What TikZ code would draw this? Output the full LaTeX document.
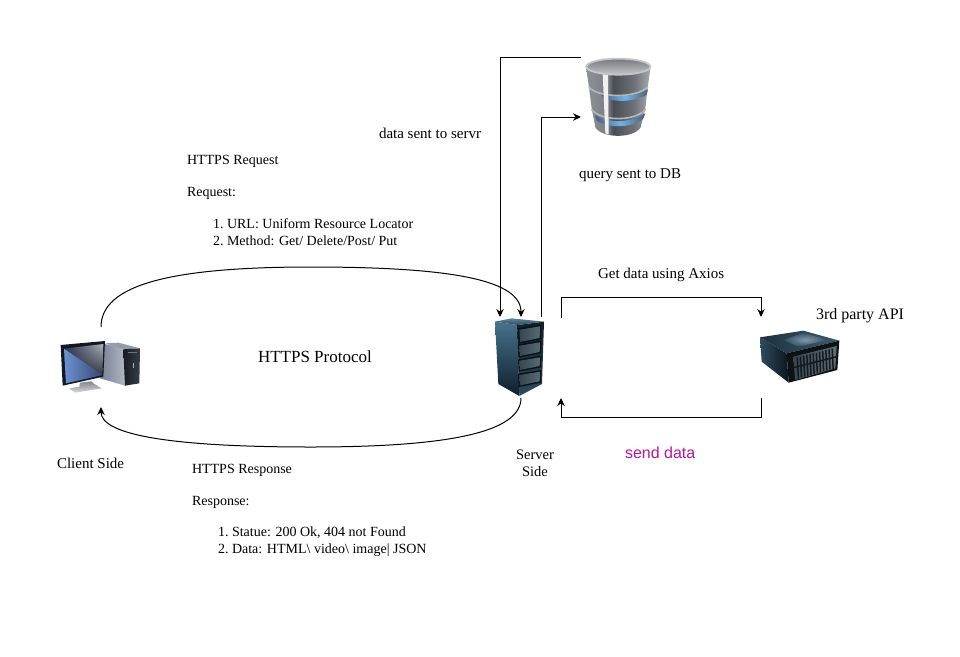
\documentclass[tikz,border=0pt]{standalone}
\usepackage{fontspec}
\setmainfont{Liberation Serif}
\newfontfamily\lsans{Liberation Sans}
\usetikzlibrary{arrows.meta,shadings}
\definecolor{magtxt}{HTML}{B5179E}
\definecolor{dbA}{HTML}{8E9298}
\definecolor{dbB}{HTML}{7A7E84}
\definecolor{dbC}{HTML}{4A4D54}
\definecolor{dbD}{HTML}{6E7278}
\definecolor{dbE}{HTML}{A8ACB2}
\definecolor{dbGlowM}{HTML}{6FB4E6}
\definecolor{dbGlowE}{HTML}{4C5F78}
\definecolor{dbSeam}{HTML}{B4B7BC}
\definecolor{dbTopD}{HTML}{77797E}
\definecolor{dbTopL}{HTML}{C4C6CA}
% client
\definecolor{cTowerL}{HTML}{788096}
\definecolor{cTowerR}{HTML}{B2B6C3}
\definecolor{cTowerT}{HTML}{969BAA}
\definecolor{cFrontL}{HTML}{191C26}
\definecolor{cFrontR}{HTML}{373C48}
\definecolor{cBay}{HTML}{6E737D}
\definecolor{cBtn}{HTML}{AAAFB4}
\definecolor{cStandT}{HTML}{82878F}
\definecolor{cStandB}{HTML}{D7DADE}
\definecolor{cBezel}{HTML}{141826}
\definecolor{cScrUL}{HTML}{283050}
\definecolor{cScrUR}{HTML}{AFB4BC}
\definecolor{cScrLR}{HTML}{14161E}
\definecolor{cScrLL}{HTML}{282D3C}
\definecolor{cBlueL}{HTML}{6C91D2}
\definecolor{cBlueR}{HTML}{374873}
% server
\definecolor{sLeftT}{HTML}{46738C}
\definecolor{sLeftB}{HTML}{0E1E2C}
\definecolor{sRightT}{HTML}{121E26}
\definecolor{sRightB}{HTML}{2D4B5F}
\definecolor{sTopT}{HTML}{5F879B}
\definecolor{sTopB}{HTML}{28485C}
\definecolor{sDrawer}{HTML}{0C1014}
\definecolor{sPanelL}{HTML}{35464F}
\definecolor{sPanelR}{HTML}{566A75}
% api
\definecolor{aLeftL}{HTML}{2D4B5F}
\definecolor{aLeftR}{HTML}{0E161C}
\definecolor{aTopL}{HTML}{1C303E}
\definecolor{aTopR}{HTML}{3C5A6C}
\definecolor{aGlowI}{HTML}{96AFBE}
\definecolor{aGlowO}{HTML}{325064}
\definecolor{aFront}{HTML}{0E1216}
\definecolor{aPanelL}{HTML}{374650}
\definecolor{aPanelR}{HTML}{5F6E78}
\definecolor{aSlot}{HTML}{141A1E}
\pgfdeclarehorizontalshading{dbbody}{100bp}{
  color(0bp)=(dbA); color(25bp)=(dbA); color(42bp)=(dbB); color(46bp)=(dbC);
  color(62bp)=(dbD); color(75bp)=(dbE); color(100bp)=(dbE)}
\tikzset{
  wire/.style={draw=black,line width=1pt,-{Stealth[length=8pt,width=7.5pt]}},
  lab/.style={anchor=base west,inner sep=0pt,outer sep=0pt,font=\fontsize{14}{16}\selectfont,text=black},
  wide/.style={font=\fontsize{15}{17}\selectfont},
  icon/.style={inner sep=0pt,outer sep=0pt,draw=none},
  glow/.style={left color=dbGlowE,right color=dbGlowE,middle color=dbGlowM},
  seam/.style={draw=dbSeam,line width=1.6pt,fill=none},
}
\newcommand{\numitem}[2]{\makebox[14pt][l]{#1}#2}
\begin{document}
\begin{tikzpicture}[x=1pt,y=-1pt]
\useasboundingbox (0,0) rectangle (960,656);
\fill[white] (0,0) rectangle (960,656);

% ---------- icon place holders
\node[icon,minimum width=80pt,minimum height=52pt] (client) at (100,366) {};
\node[icon,minimum width=50pt,minimum height=78pt] (server) at (521,357) {};
\node[icon,minimum width=74pt,minimum height=78pt] (db) at (618,97) {};
\node[icon,minimum width=80pt,minimum height=52pt] (api) at (800,360) {};

% ---------- client
\begin{scope}[shift={(40,320)},scale=1/3]
  \path[left color=cTowerL,right color=cTowerR] (185,70)--(255,85)--(255,197)--(180,175)--cycle;
  \fill[cTowerT] (195,70)--(235,68)--(300,85)--(250,88)--cycle;
  \path[left color=cFrontL,right color=cFrontR] (250,88)--(300,85)--(298,190)--(255,197)--cycle;
  \fill[cBay] (265,95) rectangle (292,100);
  \fill[cBtn] (278,128) rectangle (282,145);
  % stand
  \path[top color=cStandT,bottom color=cStandB] (120,188)--(155,184)--(160,190)--(185,205)--(105,218)--(88,205)--(118,200)--cycle;
  % monitor
  \fill[cBezel] (62,75)--(195,63)--(190,170)--(68,197)--cycle;
  \shade[upper left=cScrUL,upper right=cScrUR,lower right=cScrLR,lower left=cScrLL] (72,86)--(190,72)--(187,165)--(78,190)--cycle;
  \path[left color=cBlueL,right color=cBlueR] (72,86)--(187,165)--(78,190)--cycle;
\end{scope}

% ---------- server
\begin{scope}[shift={(480,290)},scale=1/3]
  \path[top color=sLeftT,bottom color=sLeftB] (45,95)--(112,105)--(118,318)--(55,282)--cycle;
  \path[top color=sRightT,bottom color=sRightB] (112,105)--(192,95)--(186,282)--(118,318)--cycle;
  \path[top color=sTopT,bottom color=sTopB] (45,95)--(95,85)--(192,95)--(112,105)--cycle;
  \foreach \a/\b in {112/158,160/200,205/242,248/288}{
    \fill[sDrawer] (114,\a+3)--(184,\a-8)--(183,\b-10)--(116,\b+3)--cycle;
    \path[left color=sPanelL,right color=sPanelR] (118,\a+7)--(180,\a-3)--(179,\b-14)--(120,\b-2)--cycle;
  }
\end{scope}

% ---------- database
\begin{scope}[shift={(560,40)},scale=1/3]
  \path[shading=dbbody] (78,80)--(272,80)--(262,150)--(256,205)--(242,262) .. controls (222,296) and (126,296) .. (106,262)--(95,205)--(88,150)--cycle;
  % seams and glow
  \path[glow] (126,158) .. controls (170,176) and (225,170) .. (264,148) -- (260,164) .. controls (225,186) and (165,188) .. (128,172) -- cycle;
  \path[seam] (86,142) .. controls (120,175) and (230,175) .. (264,140);
  \path[glow] (106,226) .. controls (150,252) and (215,248) .. (256,220) -- (250,236) .. controls (215,264) and (150,266) .. (110,242) -- cycle;
  \path[seam] (94,208) .. controls (125,245) and (225,245) .. (257,208);
  % highlight
  \fill[white!88!gray] (128,100)--(144,104)--(146,283)--(136,280)--cycle;
  % top
  \path[top color=dbTopD,bottom color=dbTopL,draw=dbTopL,line width=1.8pt] (175,80) ellipse[x radius=96,y radius=24];
\end{scope}

% ---------- third party API
\begin{scope}[shift={(740,320)},scale=1/3]
  \path[left color=aLeftL,right color=aLeftR] (60,52)--(140,100)--(146,188)--(65,125)--cycle;
  \path[left color=aTopL,right color=aTopR] (60,52)--(190,32)--(298,62)--(140,100)--cycle;
  \shade[inner color=aGlowI,outer color=aGlowO,opacity=0.8] (130,60)--(190,38)--(262,60)--(175,80)--cycle;
  \fill[aFront] (140,100)--(298,62)--(292,150)--(146,188)--cycle;
  \path[left color=aPanelL,right color=aPanelR] (160,110)--(290,78)--(286,145)--(165,180)--cycle;
  \foreach \i in {0,...,11}{
    \draw[aSlot,line width=1.5pt] ({172+\i*9.5},{112-\i*2.4})--({175+\i*9.5},{175-\i*2.6});
  }
  \draw[aSlot,line width=1.5pt] (160,143)--(290,110);
\end{scope}

% ---------- connectors
\coordinate (reqStart) at (101,327);
\coordinate (reqEnd) at (521,317);
\coordinate (respStart) at (521,398);
\coordinate (respEnd) at (101,407);
\coordinate (dbOut) at (581,57);
\coordinate (srvIn) at (500,317);
\coordinate (srvOut) at (541,317);
\coordinate (dbIn) at (581,117);
\coordinate (axStart) at (561,318);
\coordinate (axEnd) at (761,317);
\coordinate (sdStart) at (761,398);
\coordinate (sdEnd) at (561,398);

\draw[wire] (reqStart) .. controls (101,285) and (170,267) .. (311,267)
            .. controls (452,267) and (521,280) .. (reqEnd);
\draw[wire] (respStart) .. controls (521,432) and (450,447) .. (311,447)
            .. controls (172,447) and (101,435) .. (respEnd);
\draw[wire] (dbOut) -- (dbOut -| srvIn) -- (srvIn);
\draw[wire] (srvOut) -- (srvOut |- dbIn) -- (dbIn);
\draw[wire] (axStart) -- (561,297) -- (761,297) -- (axEnd);
\draw[wire] (sdStart) -- (761,417) -- (561,417) -- (sdEnd);

% ---------- labels
\node[lab,wide] (t1) at (379,138) {data sent to servr};
\node[lab,wide] (t2) at (579,178) {query sent to DB};
\node[lab] (t3) at (187,164) {HTTPS Request};
\node[lab] (t4) at (187,196) {Request:};
\node[lab] (t5) at (213,228) {\numitem{1.}{URL: Uniform Resource Locator}};
\node[lab] (t6) at (213,245) {\numitem{2.}{Method: Get/ Delete/Post/ Put}};
\node[lab,wide] (t7) at (598,278) {Get data using Axios};
\node[lab,font=\fontsize{16}{18}\selectfont] (t8) at (816,319) {3rd party API};
\node[lab,font=\fontsize{17}{19}\selectfont] (t9) at (258,362) {HTTPS Protocol};
\node[lab,wide] (t10) at (57,468) {Client Side};
\node[lab,anchor=center,align=center,font=\fontsize{14.5}{17}\selectfont] (t11) at (535,463) {Server\\Side};
\node[lab,text=magtxt,font=\lsans\fontsize{16}{18}\selectfont] (t12) at (625,458) {send data};
\node[lab] (t13) at (192,473) {HTTPS Response};
\node[lab] (t14) at (192,505) {Response:};
\node[lab] (t15) at (218,536) {\numitem{1.}{Statue: 200 Ok, 404 not Found}};
\node[lab] (t16) at (218,553) {\numitem{2.}{Data: HTML\textbackslash{} video\textbackslash{} image| JSON}};
\end{tikzpicture}
\end{document}
